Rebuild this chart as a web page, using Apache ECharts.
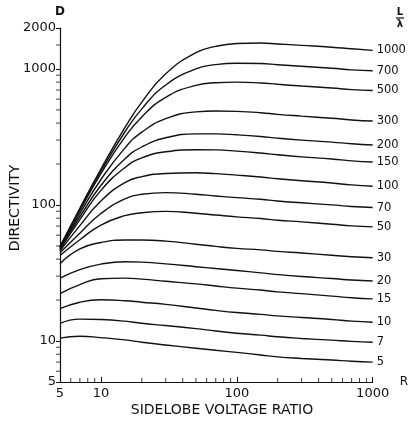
<!DOCTYPE html>
<html>
<head>
<meta charset="utf-8">
<script src="https://cdn.jsdelivr.net/npm/echarts@6/dist/echarts.min.js"></script>
<style>
  html, body { margin: 0; padding: 0; background: #fff; }
  #chart { width: 411px; height: 427px; }
</style>
</head>
<body>
<div id="chart"></div>
<script>
// Sidelobe voltage ratio R (x, log axis)
const ratios = [5, 7, 10, 15, 20, 30, 50, 70, 100, 150, 200, 300, 500, 700, 1000];
// Array length L/lambda for each curve (label at right end)
const lengths = ['5', '7', '10', '15', '20', '30', '50', '70', '100', '150', '200', '300', '500', '700', '1000'];
// Directivity D for each L/lambda, read at the ratios above
const dL5    = [10.5, 10.85, 10.6, 10.2, 9.8, 9.35, 8.85, 8.55, 8.25, 7.9, 7.65, 7.45, 7.25, 7.1, 7.0];
const dL7    = [13.5, 14.5, 14.4, 14, 13.5, 13, 12.35, 11.85, 11.4, 11.05, 10.75, 10.45, 10.15, 9.95, 9.8];
const dL10   = [17.3, 19.3, 20.1, 19.8, 19.3, 18.6, 17.5, 16.8, 16.2, 15.7, 15.3, 14.9, 14.4, 14, 13.75];
const dL15   = [22.3, 26, 28.7, 29, 28.5, 27.5, 26.3, 25.4, 24.5, 23.7, 23, 22.3, 21.4, 20.8, 20.4];
const dL20   = [29, 33.5, 36.8, 38.3, 38, 36.9, 35.2, 34.1, 33, 31.7, 30.8, 29.8, 28.8, 28.1, 27.6];
const dL30   = [37, 47.5, 53, 55.3, 55.3, 54.3, 51.5, 49.6, 48, 46.8, 45.6, 44.4, 42.7, 41.7, 40.9];
const dL50   = [42.5, 55.5, 71.2, 83.5, 87.7, 89.7, 87, 84.4, 81.8, 79.5, 77.3, 75.1, 72.2, 70.2, 69];
const dL70   = [44.5, 62, 86.5, 111, 120, 123.3, 120, 116.5, 113.3, 110.2, 107, 103.8, 100.2, 97.6, 95.8];
const dL100  = [46, 70.5, 107, 146, 161.5, 170.6, 172.6, 170, 165.8, 160.5, 156, 150.8, 145, 140.5, 137.3];
const dL150  = [47, 78, 128, 188, 222, 246, 255, 254, 249, 241, 234, 226, 218, 211, 207];
const dL200  = [47.5, 82, 139, 218, 267, 312, 333, 333, 328, 319, 310, 300, 290, 282, 276];
const dL300  = [48.2, 86.5, 154, 262, 343, 431, 484, 491, 488, 477, 464, 450, 434, 422, 414];
const dL500  = [48.8, 90.7, 170, 315, 444, 619, 758, 792, 800, 789, 771, 749, 724, 705, 695];
const dL700  = [49.2, 93, 177, 344, 509, 762, 1000, 1075, 1102, 1097, 1075, 1047, 1012, 985, 970];
const dL1000 = [49.5, 94.5, 184, 370, 571, 921, 1316, 1466, 1538, 1551, 1527, 1491, 1445, 1406, 1370];
const curves = [dL5, dL7, dL10, dL15, dL20, dL30, dL50, dL70, dL100, dL150, dL200, dL300, dL500, dL700, dL1000];

// Axis tick values
const xMajorTicks = [5, 10, 100, 1000];
const yMajorTicks = [5, 10, 100, 1000, 2000];
const xMinorTicks = [6, 7, 8, 9, 20, 30, 40, 50, 60, 70, 80, 90, 200, 300, 400, 500, 600, 700, 800, 900];
const yMinorTicks = [6, 7, 8, 9, 20, 30, 40, 50, 60, 70, 80, 90, 200, 300, 400, 500, 600, 700, 800, 900, 1500];

const FONT = 'DejaVu Sans';
const INK = '#111';

const series = curves.map((vals, i) => ({
  name: lengths[i],
  type: 'line',
  data: ratios.map((r, j) => [r, vals[j]]),
  smooth: 0.5,
  showSymbol: false,
  symbol: 'none',
  clip: false,
  lineStyle: { color: INK, width: 1.4 },
  endLabel: {
    show: true,
    formatter: lengths[i],
    distance: 4,
    color: INK,
    fontFamily: FONT,
    fontSize: 11.5
  },
  silent: true
}));

series.push({
  type: 'scatter',
  data: xMinorTicks.map(v => [v, 5]),
  symbol: 'rect',
  symbolSize: [1, 4],
  symbolOffset: [0, -2],
  itemStyle: { color: INK },
  clip: false,
  silent: true
});
series.push({
  type: 'scatter',
  data: yMinorTicks.map(v => [5, v]),
  symbol: 'rect',
  symbolSize: [4, 1],
  symbolOffset: [-2, 0],
  itemStyle: { color: INK },
  clip: false,
  silent: true
});

const chart = echarts.init(document.getElementById('chart'), null, { renderer: 'canvas' });
chart.setOption({
  animation: false,
  backgroundColor: '#fff',
  grid: { left: 60, right: 34, top: 28, bottom: 45, containLabel: false },
  xAxis: {
    type: 'log',
    logBase: 10,
    min: 5,
    max: 1000,
    name: 'R',
    nameLocation: 'end',
    nameGap: 27,
    nameTextStyle: { color: INK, fontFamily: FONT, fontSize: 12 },
    axisLine: { show: true, lineStyle: { color: INK, width: 1.2 } },
    axisTick: { show: true, inside: true, length: 5, lineStyle: { color: INK } },
    splitLine: { show: false },
    axisLabel: {
      color: INK, fontFamily: FONT, fontSize: 13, margin: 5,
      showMinLabel: true, showMaxLabel: true,
      formatter: v => {
        const r = Math.round(v);
        return xMajorTicks.indexOf(r) >= 0 ? String(r) : '';
      }
    }
  },
  yAxis: {
    type: 'log',
    logBase: 10,
    min: 5,
    max: 2000,
    name: 'D',
    nameLocation: 'end',
    nameGap: 10,
    nameTextStyle: { color: INK, fontFamily: FONT, fontSize: 12, fontWeight: 'bold' },
    axisLine: { show: true, lineStyle: { color: INK, width: 1.2 } },
    axisTick: { show: true, inside: false, length: 4, lineStyle: { color: INK } },
    splitLine: { show: false },
    axisLabel: {
      color: INK, fontFamily: FONT, fontSize: 13, margin: 4,
      showMinLabel: true, showMaxLabel: true,
      formatter: v => {
        const r = Math.round(v);
        return yMajorTicks.indexOf(r) >= 0 ? String(r) : '';
      }
    }
  },
  graphic: [
    {
      type: 'text',
      x: 15, y: 208,
      rotation: Math.PI / 2,
      style: {
        text: 'DIRECTIVITY',
        fill: INK,
        font: '14px "DejaVu Sans"',
        textAlign: 'center',
        textVerticalAlign: 'middle'
      }
    },
    {
      type: 'text',
      x: 222, y: 410,
      style: {
        text: 'SIDELOBE VOLTAGE RATIO',
        fill: INK,
        font: '14px "DejaVu Sans"',
        textAlign: 'center',
        textVerticalAlign: 'middle'
      }
    },
    {
      type: 'text',
      x: 400, y: 12,
      style: { text: 'L', fill: INK, font: 'bold 10px "DejaVu Sans"', textAlign: 'center', textVerticalAlign: 'middle' }
    },
    {
      type: 'line',
      shape: { x1: 396, y1: 18, x2: 404, y2: 18 },
      style: { stroke: INK, lineWidth: 1.2 }
    },
    {
      type: 'text',
      x: 400, y: 24,
      style: { text: 'λ', fill: INK, font: 'bold 10px "DejaVu Sans"', textAlign: 'center', textVerticalAlign: 'middle' }
    }
  ],
  series: series
});
</script>
</body>
</html>
